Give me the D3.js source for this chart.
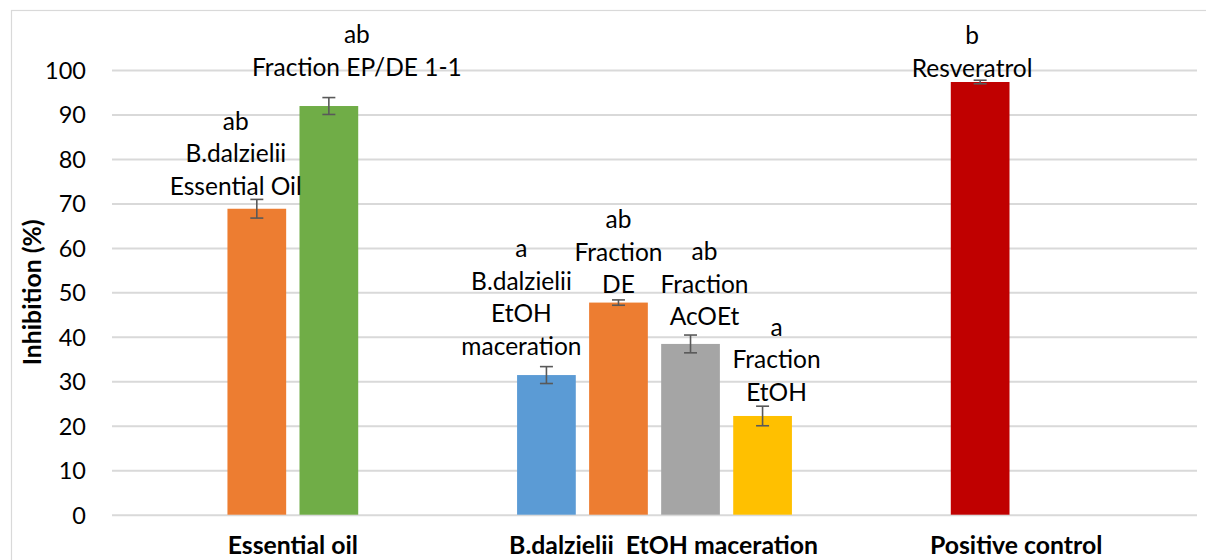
<!DOCTYPE html>
<html>
<head>
<meta charset="utf-8">
<script src="https://cdn.jsdelivr.net/npm/d3@7"></script>
<style>
  html, body { margin: 0; padding: 0; background: #fff; }
  svg { display: block; }
  text { font-family: Lato, "Open Sans", sans-serif; fill: #000; }
</style>
</head>
<body>
<svg id="chart" width="1206" height="560"></svg>
<script>
// ---- data ----
const categories = ["Essential oil", "   B.dalzielii  EtOH maceration", "Positive control"];
const categorySlots = [
  ["B.dalzielii Essential Oil", "Fraction EP/DE 1-1"],
  ["B.dalzielii EtOH maceration", "Fraction DE", "Fraction AcOEt", "Fraction EtOH"],
  ["Resveratrol", "(empty)"]
];
const samples = ["B.dalzielii Essential Oil", "Fraction EP/DE 1-1", "B.dalzielii EtOH maceration", "Fraction DE", "Fraction AcOEt", "Fraction EtOH", "Resveratrol"];
const sampleCategory = [0, 0, 1, 1, 1, 1, 2];
const inhibition = [68.8, 91.9, 31.4, 47.7, 38.4, 22.2, 97.3];
const errors = [2.1, 1.9, 1.9, 0.6, 2.0, 2.2, 0.4];
const letters = ["ab", "ab", "a", "ab", "ab", "a", "b"];
const labelLines = [
  ["B.dalzielii", "Essential Oil"],
  ["Fraction EP/DE 1-1"],
  ["B.dalzielii", "EtOH", "maceration"],
  ["Fraction", "DE"],
  ["Fraction", "AcOEt"],
  ["Fraction", "EtOH"],
  ["Resveratrol"]
];
const yTicks = [0, 10, 20, 30, 40, 50, 60, 70, 80, 90, 100];

// ---- styles / layout ----
const colors = ["#ED7D31", "#70AD47", "#5B9BD5", "#ED7D31", "#A5A5A5", "#FFC000", "#C00000"];
// manual nudges of the data labels (as placed in the original), px
const labelNudge = [[-21, 13], [28, 30], [-25, 20], [0, 15], [14, 18], [14, 14], [-8, 12]];
const lineH = 32.5;
const fsText = 24.5, fsBold = 24.8, fsTick = 23.5;

const svg = d3.select("#chart");
const plot = { left: 112, right: 1197, top: 70, bottom: 514.7 };

// chart border
svg.append("rect")
  .attr("x", 11.5).attr("y", 10.5)
  .attr("width", 1220).attr("height", 600)
  .attr("fill", "none").attr("stroke", "#D9D9D9").attr("stroke-width", 1.2);

const x = d3.scaleBand().domain(categories).range([plot.left, plot.right]);
const y = d3.scaleLinear().domain([0, 100]).range([plot.bottom, plot.top]);

const slotStep = x.bandwidth() / 5.02;
const inner = categorySlots.map((slots, i) => {
  const c = x(categories[i]) + x.bandwidth() / 2;
  return d3.scaleBand().domain(slots)
    .range([c - slots.length * slotStep / 2, c + slots.length * slotStep / 2])
    .paddingInner(0.185).paddingOuter(0.0925);
});

// gridlines + y axis labels
const yAxis = d3.axisLeft(y).tickValues(yTicks).tickSize(-(plot.right - plot.left)).tickPadding(26);
const gy = svg.append("g").attr("transform", `translate(${plot.left},0)`).call(yAxis);
gy.select(".domain").remove();
gy.selectAll(".tick line").attr("stroke", "#D9D9D9").attr("stroke-width", 2);
gy.selectAll(".tick text")
  .attr("font-family", "Lato, sans-serif").attr("font-size", fsTick)
  .attr("fill", "#000").attr("dy", "0.36em");

// x axis labels
const gx = svg.append("g").attr("transform", `translate(0,${plot.bottom})`)
  .call(d3.axisBottom(x).tickSize(0).tickPadding(22));
gx.select(".domain").remove();
gx.selectAll(".tick text")
  .attr("font-family", "Lato, sans-serif").attr("font-size", fsBold)
  .attr("font-weight", "bold").attr("fill", "#000")
  .style("white-space", "pre");

// y axis title
svg.append("text")
  .attr("transform", `translate(41,${(plot.top + plot.bottom) / 2}) rotate(-90)`)
  .attr("text-anchor", "middle")
  .attr("font-size", fsBold).attr("font-weight", "bold")
  .text("Inhibition (%)");

const bars = samples.map((s, i) => ({
  name: s, value: inhibition[i], err: errors[i], cat: sampleCategory[i], i
}));
const bx = d => inner[d.cat](d.name);
const bw = d => inner[d.cat].bandwidth();

svg.append("g").selectAll("rect").data(bars).join("rect")
  .attr("x", bx).attr("width", bw)
  .attr("y", d => y(d.value)).attr("height", d => y(0) - y(d.value))
  .attr("fill", d => colors[d.i]);

// error bars
const eg = svg.append("g").attr("stroke", "#595959").attr("stroke-width", 1.6).attr("fill", "none");
bars.forEach(d => {
  const cx = bx(d) + bw(d) / 2;
  const y1 = y(d.value + d.err), y2 = y(d.value - d.err);
  eg.append("line").attr("x1", cx).attr("x2", cx).attr("y1", y1).attr("y2", y2);
  eg.append("line").attr("x1", cx - 6.5).attr("x2", cx + 6.5).attr("y1", y1).attr("y2", y1);
  eg.append("line").attr("x1", cx - 6.5).attr("x2", cx + 6.5).attr("y1", y2).attr("y2", y2);
});

// data labels
bars.forEach(d => {
  const lines = [letters[d.i]].concat(labelLines[d.i]);
  const cx = bx(d) + bw(d) / 2 + labelNudge[d.i][0];
  const lastY = y(d.value + d.err) - labelNudge[d.i][1];
  const t = svg.append("text").attr("text-anchor", "middle").attr("font-size", fsText);
  lines.forEach((ln, k) => {
    t.append("tspan").attr("x", cx)
      .attr("y", lastY - (lines.length - 1 - k) * lineH)
      .attr("dy", "0.34em").text(ln);
  });
});
</script>
</body>
</html>
